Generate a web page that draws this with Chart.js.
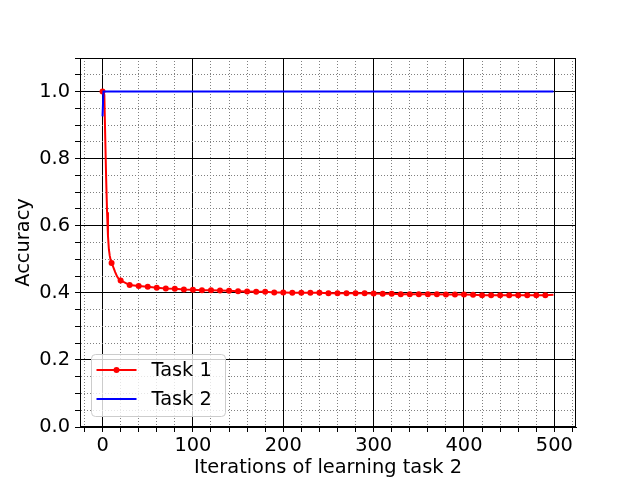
<!DOCTYPE html>
<html>
<head>
<meta charset="utf-8">
<script src="https://cdn.jsdelivr.net/npm/chart.js@4"></script>
<style>
  html, body { margin: 0; padding: 0; background: #fff; }
  canvas { display: block; }
</style>
</head>
<body>
<canvas id="accChart" width="640" height="480"></canvas>
<script>
// iterations of learning task 2 (x) and accuracy
const task1Iter = [0, 1, 2, 3, 4, 5, 6, 7, 8, 9, 10, 12, 14, 16, 18, 20,
    30, 40, 50, 60, 70, 80, 90, 100,
    110, 120, 130, 140, 150, 160, 170, 180, 190, 200,
    210, 220, 230, 240, 250, 260, 270, 280, 290, 300,
    310, 320, 330, 340, 350, 360, 370, 380, 390, 400,
    410, 420, 430, 440, 450, 460, 470, 480, 490, 499];
const task1Acc = [1.0, 1.0, 0.99, 0.86, 0.74, 0.64, 0.57, 0.53, 0.51, 0.497, 0.489, 0.476, 0.462, 0.449, 0.441, 0.437,
    0.423, 0.420, 0.418, 0.415, 0.413, 0.412, 0.410, 0.409,
    0.408, 0.408, 0.407, 0.406, 0.405, 0.404, 0.403, 0.403, 0.401, 0.401,
    0.400, 0.400, 0.400, 0.400, 0.399, 0.399, 0.399, 0.399, 0.399, 0.398,
    0.397, 0.397, 0.396, 0.396, 0.396, 0.396, 0.396, 0.395, 0.395, 0.395,
    0.394, 0.393, 0.393, 0.393, 0.393, 0.393, 0.393, 0.393, 0.393, 0.394];

const task2Iter = [0, 1, 499];
const task2Acc = [0.926, 1.0, 1.0];

const seriesLabels = ['Task 1', 'Task 2'];
const xTitle = 'Iterations of learning task 2';
const yTitle = 'Accuracy';

const FONT = 'DejaVu Sans';
const FSIZE = 19.4;

function toPoints(xs, ys) {
    return xs.map((x, i) => ({ x: x, y: ys[i] }));
}

const isMajorX = v => v % 100 === 0;
const isMajorY = v => Math.round(v * 100) % 20 === 0;

// four sided box like matplotlib spines
const framePlugin = {
    id: 'frame',
    afterDatasetsDraw(chart) {
        const { ctx, chartArea: a } = chart;
        ctx.save();
        ctx.strokeStyle = '#000';
        ctx.lineWidth = 1;
        ctx.strokeRect(Math.round(a.left) + 0.5, Math.round(a.top) + 0.5,
            Math.round(a.right - a.left) - 1, Math.round(a.bottom - a.top) - 1);
        ctx.restore();
    }
};

const legendPlugin = {
    id: 'mplLegend',
    afterDraw(chart) {
        const { ctx, chartArea: a } = chart;
        const x0 = a.left + 11.5, y0 = a.bottom - 72.5, w = 134, h = 62, r = 4;
        ctx.save();
        ctx.beginPath();
        ctx.moveTo(x0 + r, y0);
        ctx.arcTo(x0 + w, y0, x0 + w, y0 + h, r);
        ctx.arcTo(x0 + w, y0 + h, x0, y0 + h, r);
        ctx.arcTo(x0, y0 + h, x0, y0, r);
        ctx.arcTo(x0, y0, x0 + w, y0, r);
        ctx.closePath();
        ctx.fillStyle = 'rgba(255,255,255,0.8)';
        ctx.fill();
        ctx.strokeStyle = '#cccccc';
        ctx.lineWidth = 1;
        ctx.stroke();

        chart.data.datasets.forEach((ds, i) => {
            const cy = y0 + 15.5 + i * 29;
            ctx.beginPath();
            ctx.moveTo(x0 + 5, cy);
            ctx.lineTo(x0 + 45, cy);
            ctx.strokeStyle = ds.borderColor;
            ctx.lineWidth = 2;
            ctx.stroke();
            if (ds.legendMarker) {
                ctx.beginPath();
                ctx.arc(x0 + 25, cy, 3, 0, Math.PI * 2);
                ctx.fillStyle = ds.borderColor;
                ctx.fill();
            }
            ctx.fillStyle = '#000';
            ctx.font = FSIZE + 'px "' + FONT + '"';
            ctx.textBaseline = 'middle';
            ctx.textAlign = 'left';
            ctx.fillText(ds.label, x0 + 60, cy + 1);
        });
        ctx.restore();
    }
};

const ctx = document.getElementById('accChart').getContext('2d');

new Chart(ctx, {
    type: 'line',
    data: {
        datasets: [{
            label: seriesLabels[0],
            data: toPoints(task1Iter, task1Acc),
            borderColor: '#ff0000',
            backgroundColor: '#ff0000',
            borderWidth: 2,
            pointRadius: c => (c.raw && c.raw.x % 10 === 0) ? 3 : 0,
            pointBorderWidth: 0,
            pointBackgroundColor: '#ff0000',
            tension: 0,
            fill: false,
            order: 1,
            legendMarker: true
        }, {
            label: seriesLabels[1],
            data: toPoints(task2Iter, task2Acc),
            borderColor: '#0000ff',
            backgroundColor: '#0000ff',
            borderWidth: 2,
            pointRadius: 0,
            tension: 0,
            fill: false,
            order: 0,
            legendMarker: false
        }]
    },
    options: {
        responsive: false,
        animation: false,
        devicePixelRatio: 1,
        layout: { padding: { top: 58, right: 64, left: 0, bottom: 0 } },
        plugins: {
            legend: { display: false },
            tooltip: { enabled: false }
        },
        scales: {
            x: {
                type: 'linear',
                min: -24.95,
                max: 523.95,
                afterBuildTicks(scale) {
                    const t = [];
                    for (let v = -20; v <= 520; v += 20) t.push({ value: v });
                    scale.ticks = t;
                },
                afterFit(scale) { scale.height = 53; },
                ticks: {
                    autoSkip: false,
                    maxRotation: 0,
                    minRotation: 0,
                    padding: 2,
                    color: '#000',
                    font: { family: FONT, size: FSIZE },
                    callback: v => isMajorX(v) ? String(v) : ''
                },
                grid: {
                    color: c => (c.tick && isMajorX(c.tick.value)) ? '#000' : '#808080',
                    lineWidth: 1,
                    tickColor: '#000',
                    tickLength: 5
                },
                border: {
                    display: true,
                    color: '#000',
                    width: 1,
                    dash: c => (c.tick && !isMajorX(c.tick.value)) ? [1, 2] : []
                },
                title: {
                    display: true,
                    text: xTitle,
                    color: '#000',
                    font: { family: FONT, size: FSIZE },
                    padding: { top: 0, bottom: 0 }
                }
            },
            y: {
                type: 'linear',
                min: 0,
                max: 1.1,
                afterBuildTicks(scale) {
                    const t = [];
                    for (let k = 0; k <= 22; k++) t.push({ value: Math.round(k * 5) / 100 });
                    scale.ticks = t;
                },
                afterFit(scale) { scale.width = 80; },
                ticks: {
                    autoSkip: false,
                    padding: 5,
                    color: '#000',
                    font: { family: FONT, size: FSIZE },
                    callback: v => isMajorY(v) ? v.toFixed(1) : ''
                },
                grid: {
                    color: c => (c.tick && isMajorY(c.tick.value)) ? '#000' : '#808080',
                    lineWidth: 1,
                    tickColor: '#000',
                    tickLength: 5
                },
                border: {
                    display: true,
                    color: '#000',
                    width: 1,
                    dash: c => (c.tick && !isMajorY(c.tick.value)) ? [1, 2] : []
                },
                title: {
                    display: true,
                    text: yTitle,
                    color: '#000',
                    font: { family: FONT, size: FSIZE },
                    padding: { top: 12, bottom: 0 }
                }
            }
        }
    },
    plugins: [framePlugin, legendPlugin]
});
</script>
</body>
</html>
